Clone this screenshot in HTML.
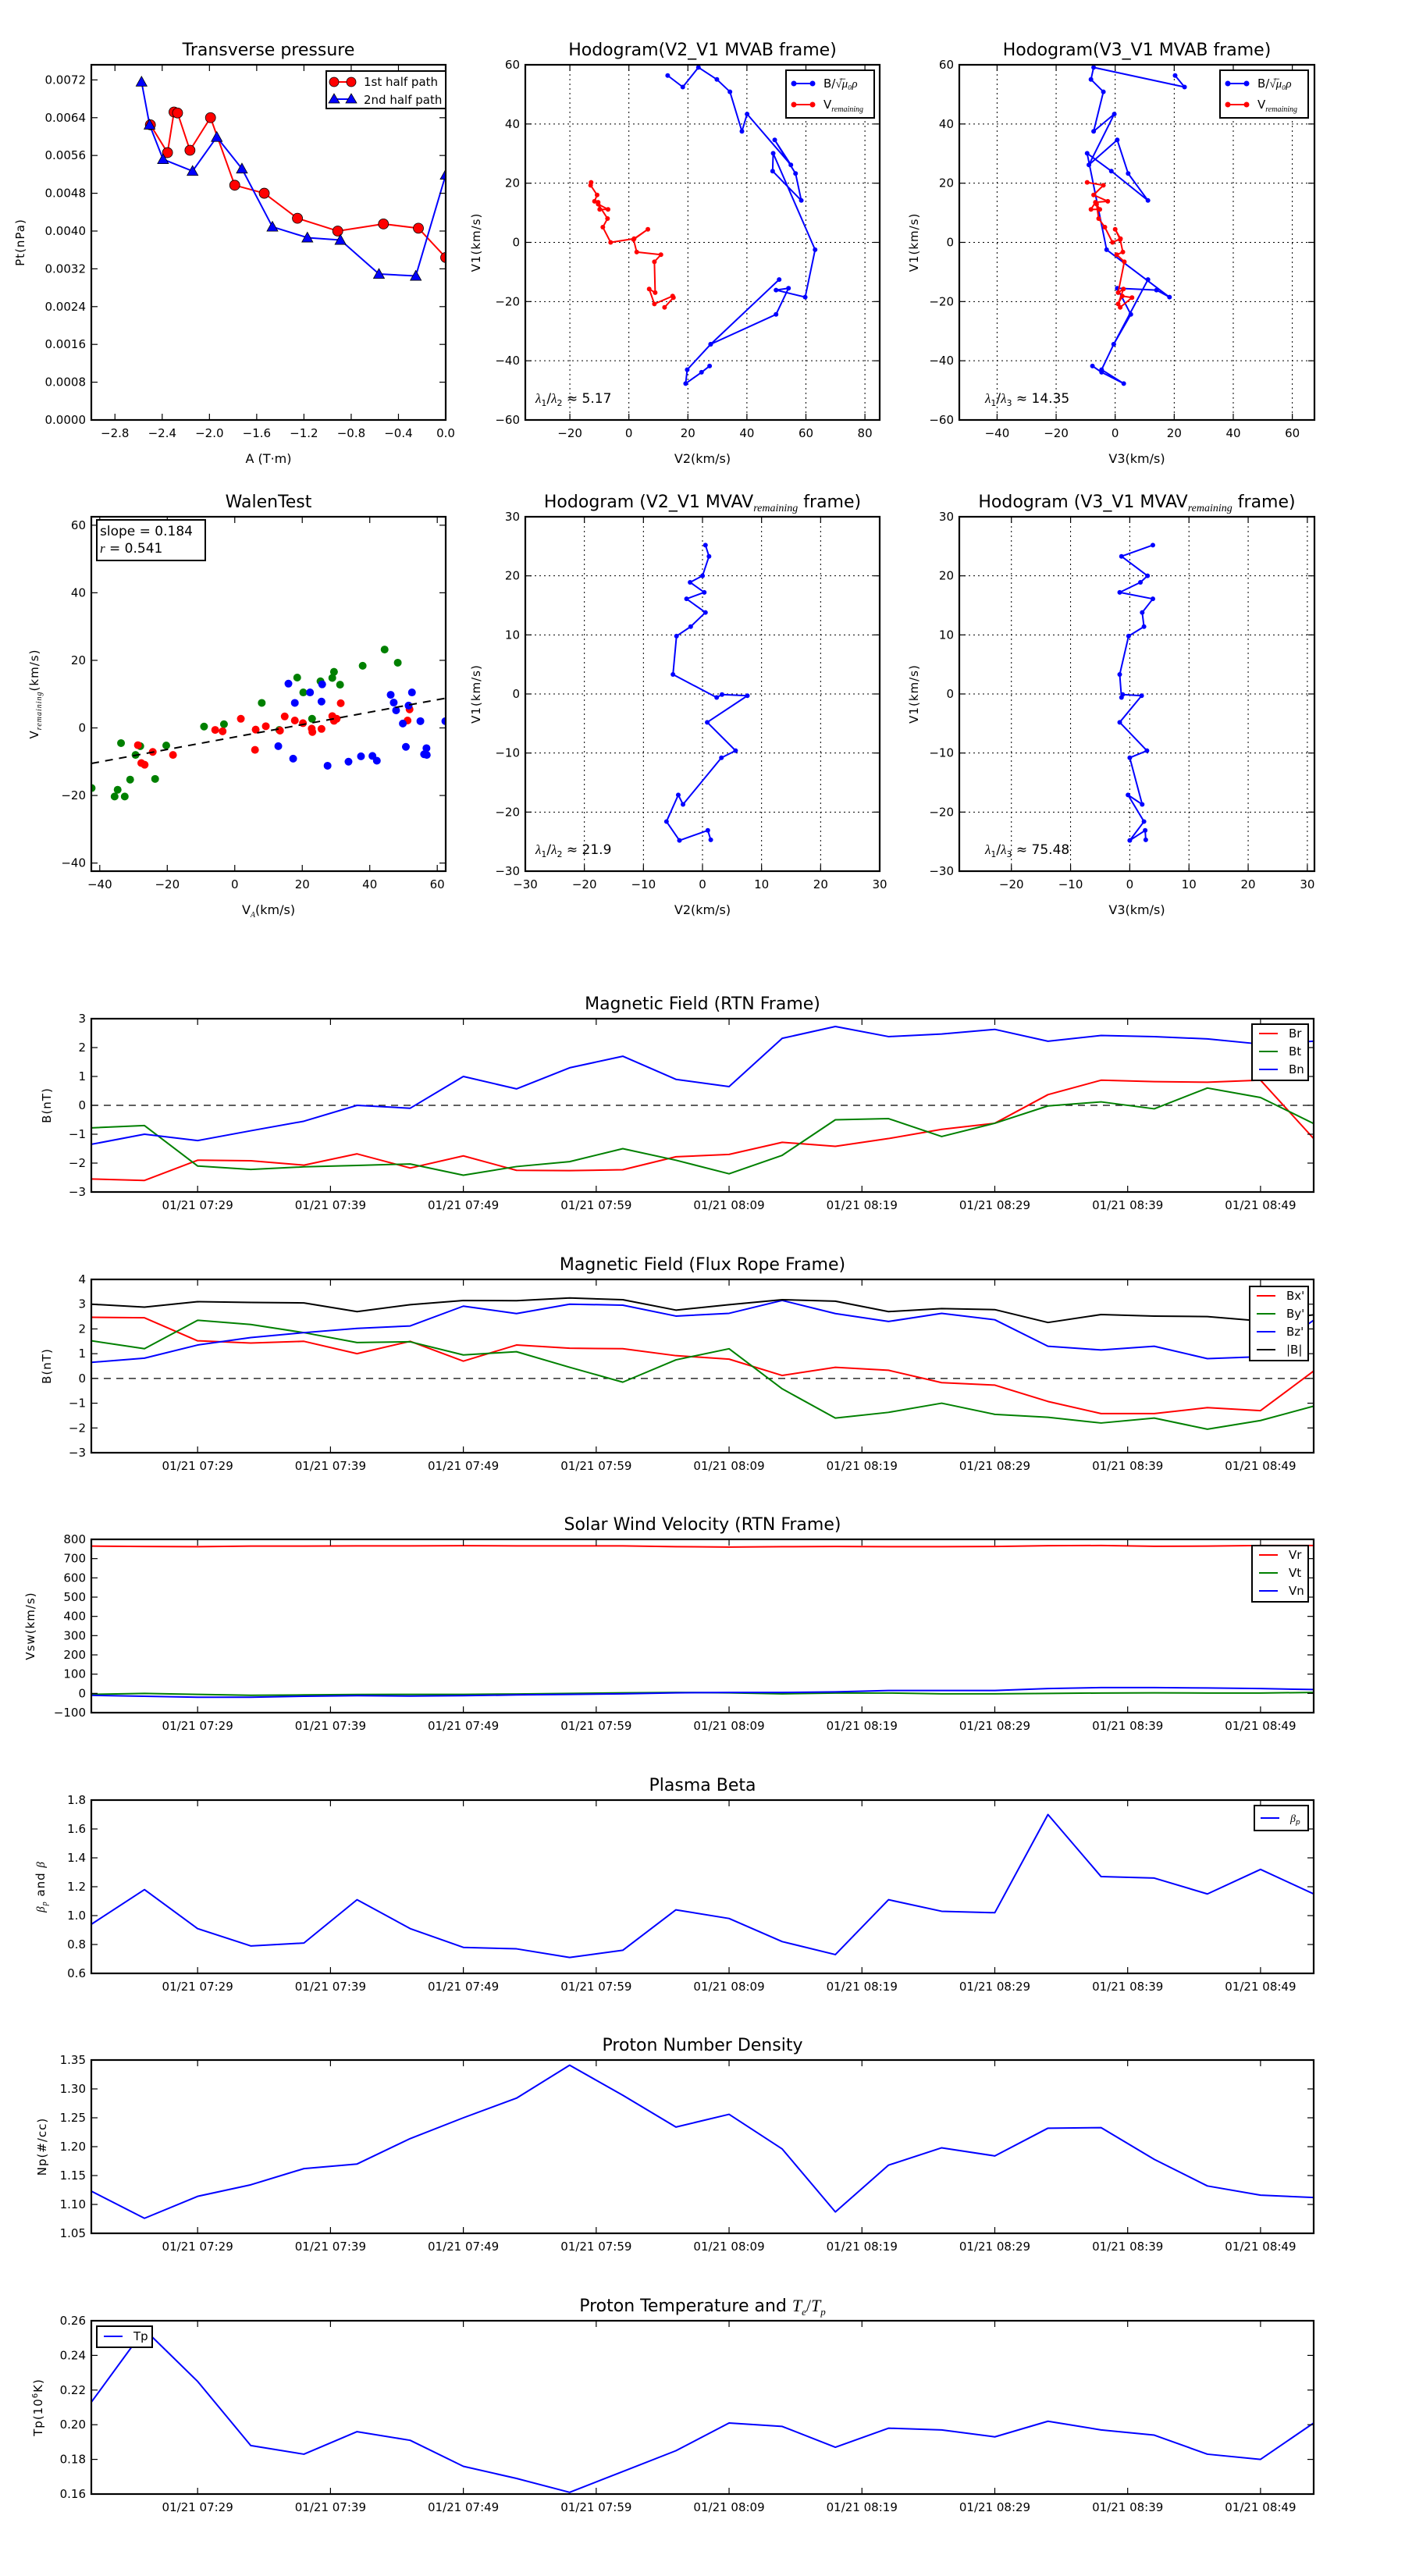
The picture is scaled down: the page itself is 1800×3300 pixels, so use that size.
<!DOCTYPE html>
<html><head><meta charset="utf-8"><title>Flux rope analysis</title>
<style>
html,body{margin:0;padding:0;background:#fff;}
svg{display:block;font-family:"DejaVu Sans","Liberation Sans",sans-serif;}
text{fill:#000;}
</style></head>
<body>
<svg id="fig" xmlns="http://www.w3.org/2000/svg" width="1800" height="3300" viewBox="0 0 1800 3300">
<rect x="0" y="0" width="1800" height="3300" fill="#fff"/>
</svg>
<script>
// ---------- Transverse pressure ----------
const TP_RED_A  = [-2.50,-2.355,-2.30,-2.27,-2.165,-1.991,-1.786,-1.536,-1.255,-0.914,-0.527,-0.231,0.0];
const TP_RED_PT = [0.00625,0.00566,0.00652,0.00650,0.00571,0.00640,0.00497,0.00480,0.00427,0.00400,0.00415,0.00406,0.00344];
const TP_BLUE_A  = [-2.575,-2.507,-2.393,-2.143,-1.938,-1.725,-1.467,-1.171,-0.891,-0.565,-0.253,0.0];
const TP_BLUE_PT = [0.00716,0.00625,0.00552,0.00527,0.00599,0.00532,0.00409,0.00386,0.00381,0.00309,0.00305,0.00519];
const TP_XTICKS = [-2.8,-2.4,-2.0,-1.6,-1.2,-0.8,-0.4,0.0];
const TP_XLABELS = ["\u22122.8","\u22122.4","\u22122.0","\u22121.6","\u22121.2","\u22120.8","\u22120.4","0.0"];
const TP_YTICKS = [0,0.0008,0.0016,0.0024,0.0032,0.0040,0.0048,0.0056,0.0064,0.0072];
const TP_YLABELS = ["0.0000","0.0008","0.0016","0.0024","0.0032","0.0040","0.0048","0.0056","0.0064","0.0072"];
// ---------- MVAB hodograms ----------
const HB_V1 = [56.37,52.48,59.12,55.04,50.88,37.52,43.36,26.19,34.60,23.27,14.16,24.07,30.09,-2.48,-18.50,-16.11,-15.49,-24.34,-34.42,-12.57,-34.42,-43.01,-47.70,-43.89,-41.77];
const HB_V2 = [13.15,18.27,23.57,29.83,34.25,38.31,40.07,54.90,49.43,56.49,58.43,48.72,48.90,63.11,59.75,49.87,54.10,49.87,27.71,50.93,27.71,19.77,19.24,24.62,27.36];
const HB_V3 = [20.3,23.5,-7.3,-8.2,-4.0,-7.3,-0.3,-8.9,0.7,4.4,11.1,-1.3,-9.5,-2.9,18.4,14.0,0.7,5.3,-0.5,11.1,-0.5,-4.6,2.9,-4.6,-7.7];
const HR_V1 = [20.27,19.29,16.02,13.89,13.54,11.15,11.15,12.92,8.05,5.13,0,1.24,4.42,0.97,-3.27,-4.16,-6.55,-16.99,-15.75,-20.80,-18.14,-18.67,-21.95];
const HR_V2 = [-12.80,-12.97,-10.77,-11.65,-10.41,-9.89,-7.06,-10.41,-7.24,-8.83,-6.18,1.77,6.44,1.59,2.65,10.86,8.65,8.91,6.88,8.65,14.83,15.09,12.09];
const HR_V3 = [-9.5,-4.0,-7.3,-2.5,-6.7,-8.2,-5.2,-6.3,-5.6,-3.5,-0.9,1.8,0,1.7,2.6,0.5,3.1,1.0,2.8,1.0,2.4,5.7,1.7];
const H60_TICKS = [-60,-40,-20,0,20,40,60];
const H60_LABELS = ["\u221260","\u221240","\u221220","0","20","40","60"];
const H2_XTICKS = [-20,0,20,40,60,80];
const H2_XLABELS = ["\u221220","0","20","40","60","80"];
const H3_XTICKS = [-40,-20,0,20,40,60];
const H3_XLABELS = ["\u221240","\u221220","0","20","40","60"];
// ---------- Walen test ----------
const WG_VA = [-42.4,-35.6,-34.7,-32.6,-31.0,-23.6,-33.7,-28.0,-29.4,-20.3,-9.1,-3.2,8.0,13.2,18.5,20.3,22.9,25.4,28.9,29.4,31.2,37.9,44.4,48.3];
const WG_VR = [-17.8,-20.3,-18.3,-20.3,-15.3,-15.1,-4.5,-5.4,-8.0,-5.2,0.4,1.1,7.4,-0.6,14.9,10.5,2.7,13.8,14.8,16.6,12.8,18.4,23.2,19.3];
const WR_VA = [-28.7,-27.7,-26.7,-24.3,-18.3,-5.8,-3.6,1.8,6.0,6.2,9.2,13.4,14.8,17.8,20.2,22.8,23.0,25.7,28.9,29.4,30.2,31.4,51.2,51.8];
const WR_VR = [-5.1,-10.4,-10.9,-7.1,-8.0,-0.6,-1.0,2.7,-6.5,-0.5,0.5,-0.8,3.4,2.2,1.4,-0.2,-1.2,-0.3,3.5,2.1,2.7,7.3,2.2,5.5];
const WB_VA = [15.9,17.8,22.3,25.7,25.9,12.9,17.3,27.5,33.7,37.4,40.8,42.1,46.2,47.1,47.8,49.8,50.7,51.5,52.5,55.0,56.1,56.8,56.9,62.4];
const WB_VR = [13.1,7.4,10.5,7.8,12.9,-5.4,-9.1,-11.2,-10.0,-8.4,-8.3,-9.7,9.8,7.5,5.2,1.3,-5.6,6.6,10.5,2.0,-7.8,-6.0,-8.0,2.0];
const W_SLOPE = 0.184;
const W_INTERCEPT = -2.7;
const W_TICKS = [-40,-20,0,20,40,60];
const W_LABELS = ["\u221240","\u221220","0","20","40","60"];
// ---------- MVAV hodograms ----------
const M_V1 = [25.2,23.3,20.0,18.9,17.2,16.1,13.8,11.4,9.8,3.3,-0.6,-0.1,-0.3,-4.8,-9.6,-10.8,-18.7,-17.1,-21.6,-24.8,-23.1,-24.7];
const M_V2 = [0.5,1.1,0,-2.1,0.3,-2.7,0.5,-2.0,-4.4,-5.0,2.4,3.3,7.6,0.8,5.6,3.2,-3.3,-4.1,-6.1,-3.9,0.9,1.4];
const M_V3 = [3.9,-1.4,3.0,1.8,-1.7,3.9,2.1,2.4,-0.2,-1.7,-1.4,-1.2,2.0,-1.7,2.9,0,2.1,-0.3,2.4,0,2.6,2.7];
const M30_TICKS = [-30,-20,-10,0,10,20,30];
const M30_LABELS = ["\u221230","\u221220","\u221210","0","10","20","30"];
const M3_XTICKS = [-20,-10,0,10,20,30];
const M3_XLABELS = ["\u221220","\u221210","0","10","20","30"];
// ---------- Time series (4-min cadence from 07:21) ----------
const T_STEP_MIN = 4;
const TIME_TICK_MIN = [8,18,28,38,48,58,68,78,88];
const TIME_TICK_LABELS = ["01/21 07:29","01/21 07:39","01/21 07:49","01/21 07:59","01/21 08:09","01/21 08:19","01/21 08:29","01/21 08:39","01/21 08:49"];
const BR = [-2.55,-2.6,-1.9,-1.92,-2.07,-1.68,-2.17,-1.75,-2.25,-2.26,-2.23,-1.78,-1.7,-1.28,-1.42,-1.15,-0.83,-0.62,0.37,0.87,0.82,0.8,0.87,-1.15];
const BT = [-0.78,-0.7,-2.1,-2.22,-2.13,-2.08,-2.03,-2.42,-2.12,-1.95,-1.5,-1.9,-2.37,-1.73,-0.5,-0.46,-1.08,-0.62,-0.02,0.12,-0.12,0.6,0.27,-0.63];
const BN = [-1.35,-1.0,-1.22,-0.88,-0.55,0.0,-0.1,1.0,0.57,1.3,1.7,0.9,0.65,2.32,2.73,2.38,2.47,2.63,2.22,2.42,2.38,2.3,2.12,2.22];
const BX = [2.47,2.45,1.52,1.43,1.5,1.0,1.5,0.7,1.35,1.22,1.2,0.92,0.78,0.12,0.45,0.33,-0.17,-0.27,-0.93,-1.42,-1.42,-1.18,-1.3,0.3];
const BY = [1.52,1.2,2.35,2.18,1.85,1.45,1.48,0.95,1.08,0.45,-0.15,0.75,1.2,-0.42,-1.6,-1.37,-1.0,-1.45,-1.57,-1.8,-1.6,-2.05,-1.7,-1.12];
const BZ = [0.65,0.82,1.35,1.65,1.85,2.02,2.12,2.92,2.62,3.0,2.96,2.52,2.63,3.15,2.62,2.3,2.63,2.37,1.3,1.15,1.3,0.8,0.88,2.35];
const BMAG = [3.0,2.88,3.1,3.07,3.05,2.7,2.98,3.15,3.14,3.25,3.18,2.76,2.98,3.18,3.12,2.7,2.82,2.78,2.26,2.58,2.52,2.5,2.32,2.57];
const VR = [765,763,762,765,765,766,766,767,766,766,766,762,760,762,763,762,762,763,767,768,764,765,768,768];
const VT = [-5,0,-5,-10,-8,-6,-5,-5,-3,0,3,5,3,-2,2,2,-2,-2,0,2,3,2,2,5];
const VN = [-10,-15,-20,-20,-15,-12,-14,-12,-8,-5,-2,3,5,5,8,15,15,15,25,30,30,28,25,20];
const BETA = [0.94,1.18,0.91,0.79,0.81,1.11,0.91,0.78,0.77,0.71,0.76,1.04,0.98,0.82,0.73,1.11,1.03,1.02,1.70,1.27,1.26,1.15,1.32,1.15];
const NP = [1.123,1.076,1.114,1.134,1.162,1.170,1.214,1.250,1.284,1.341,1.289,1.234,1.256,1.196,1.087,1.168,1.198,1.184,1.232,1.233,1.178,1.132,1.116,1.112];
const TPK = [0.213,0.255,0.225,0.188,0.183,0.196,0.191,0.176,0.169,0.161,0.173,0.185,0.201,0.199,0.187,0.198,0.197,0.193,0.202,0.197,0.194,0.183,0.180,0.201];
const RTN_YT = [-3,-2,-1,0,1,2,3];
const RTN_YL = ["\u22123","\u22122","\u22121","0","1","2","3"];
const FR_YT = [-3,-2,-1,0,1,2,3,4];
const FR_YL = ["\u22123","\u22122","\u22121","0","1","2","3","4"];
const V_YT = [-100,0,100,200,300,400,500,600,700,800];
const V_YL = ["\u2212100","0","100","200","300","400","500","600","700","800"];
const BETA_YT = [0.6,0.8,1.0,1.2,1.4,1.6,1.8];
const BETA_YL = ["0.6","0.8","1.0","1.2","1.4","1.6","1.8"];
const NP_YT = [1.05,1.10,1.15,1.20,1.25,1.30,1.35];
const NP_YL = ["1.05","1.10","1.15","1.20","1.25","1.30","1.35"];
const TP_YT2 = [0.16,0.18,0.20,0.22,0.24,0.26];
const TP_YL2 = ["0.16","0.18","0.20","0.22","0.24","0.26"];

const NS = 'http://www.w3.org/2000/svg';
const svg = document.getElementById('fig');
let clipCount = 0;
function mk(tag, attrs, parent, name, inter) {
  const e = document.createElementNS(NS, tag);
  for (const k in attrs) e.setAttribute(k, attrs[k]);
  
  
  (parent || svg).appendChild(e);
  return e;
}
function txt(s, attrs, parent, name) { const e = mk('text', attrs, parent, name); e.textContent = s; return e; }
function lin(d0, d1, r0, r1) { return v => r0 + (v - d0) / (d1 - d0) * (r1 - r0); }

function panel(o) {
  const g = mk('g', {}, svg, o.name);
  const sx = lin(o.xd[0], o.xd[1], o.x, o.x + o.w);
  const sy = lin(o.yd[0], o.yd[1], o.y + o.h, o.y);
  const cid = 'clip' + (++clipCount);
  const defs = mk('defs', {}, g, 'defs');
  const cp = mk('clipPath', {id: cid}, defs, 'clip-path');
  mk('rect', {x: o.x, y: o.y, width: o.w, height: o.h}, cp, 'clip-rect');
  if (o.grid) {
    const gg = mk('g', {stroke: '#000', 'stroke-width': 1, 'stroke-dasharray': '2,4'}, g, 'grid');
    o.xt.forEach(v => { const X = sx(v); mk('line', {x1: X, x2: X, y1: o.y, y2: o.y + o.h}, gg, 'grid-line-x'); });
    o.yt.forEach(v => { const Y = sy(v); mk('line', {x1: o.x, x2: o.x + o.w, y1: Y, y2: Y}, gg, 'grid-line-y'); });
  }
  const plot = mk('g', {'clip-path': 'url(#' + cid + ')'}, g, 'plot-area');
  const tg = mk('g', {stroke: '#000', 'stroke-width': 1.2}, g, 'ticks');
  const lg = mk('g', {'font-size': 15}, g, 'tick-labels');
  o.xt.forEach((v, i) => {
    const X = sx(v);
    mk('line', {x1: X, x2: X, y1: o.y + o.h, y2: o.y + o.h - 8}, tg, 'x-tick');
    mk('line', {x1: X, x2: X, y1: o.y, y2: o.y + 8}, tg, 'x-tick');
    txt(o.xl[i], {x: X, y: o.y + o.h + 22, 'text-anchor': 'middle'}, lg, 'x-tick-label');
  });
  o.yt.forEach((v, i) => {
    const Y = sy(v);
    mk('line', {x1: o.x, x2: o.x + 8, y1: Y, y2: Y}, tg, 'y-tick');
    mk('line', {x1: o.x + o.w, x2: o.x + o.w - 8, y1: Y, y2: Y}, tg, 'y-tick');
    txt(o.yl[i], {x: o.x - 7, y: Y + 5, 'text-anchor': 'end'}, lg, 'y-tick-label');
  });
  mk('rect', {x: o.x, y: o.y, width: o.w, height: o.h, fill: 'none', stroke: '#000', 'stroke-width': 2.2}, g, 'axes-frame');
  if (o.title) {
    const t = mk('text', {x: o.x + o.w / 2, y: o.y - 12, 'text-anchor': 'middle', 'font-size': 22}, g, 'chart-title');
    t.innerHTML = o.title;
  }
  if (o.xlabel) {
    const t = mk('text', {x: o.x + o.w / 2, y: o.y + o.h + 55, 'text-anchor': 'middle', 'font-size': 16}, g, 'x-axis-title');
    t.innerHTML = o.xlabel;
  }
  if (o.ylabel) {
    const cx = o.x - o.yoff, cy = o.y + o.h / 2;
    const t = mk('text', {x: cx, y: cy, 'text-anchor': 'middle', 'font-size': 15, transform: 'rotate(-90 ' + cx + ' ' + cy + ')', 'letter-spacing': 1}, g, 'y-axis-title');
    t.innerHTML = o.ylabel;
  }
  return {sx, sy, g, plot};
}
function polyline(p, xs, ys, color, name, w) {
  const pts = xs.map((v, i) => p.sx(v).toFixed(2) + ',' + p.sy(ys[i]).toFixed(2)).join(' ');
  return mk('polyline', {points: pts, fill: 'none', stroke: color, 'stroke-width': w || 2, 'stroke-linejoin': 'round'}, p.plot, name);
}
function dots(p, xs, ys, color, r, name, edge) {
  const g = mk('g', {fill: color}, p.plot, name);
  xs.forEach((v, i) => {
    const a = {cx: p.sx(v), cy: p.sy(ys[i]), r: r};
    if (edge) { a.stroke = '#000'; a['stroke-width'] = 0.8; }
    mk('circle', a, g, name + '-point');
  });
}
function tris(p, xs, ys, color, s, name) {
  const g = mk('g', {fill: color, stroke: '#000', 'stroke-width': 0.8}, p.plot, name);
  xs.forEach((v, i) => {
    const X = p.sx(v), Y = p.sy(ys[i]);
    mk('polygon', {points: X + ',' + (Y - s) + ' ' + (X - s) + ',' + (Y + s * 0.8) + ' ' + (X + s) + ',' + (Y + s * 0.8)}, g, name + '-point');
  });
}
function legendBox(x, y, w, h, name) {
  const g = mk('g', {}, svg, name);
  mk('rect', {x: x, y: y, width: w, height: h, fill: '#fff', stroke: '#000', 'stroke-width': 2}, g, 'legend-frame');
  return g;
}
function legendEntry(g, x, y, color, label, name, marker) {
  const e = mk('g', {}, g, name);
  mk('line', {x1: x, x2: x + 24, y1: y, y2: y, stroke: color, 'stroke-width': 2}, e, 'legend-line');
  if (marker === 'dot') {
    mk('circle', {cx: x, cy: y, r: 3.5, fill: color}, e, 'legend-marker');
    mk('circle', {cx: x + 24, cy: y, r: 3.5, fill: color}, e, 'legend-marker');
  }
  const t = mk('text', {x: x + 38, y: y + 5, 'font-size': 15}, e, 'legend-label');
  t.innerHTML = label;
}

// ===== Row 1 =====
const p1 = panel({name: 'transverse-pressure-chart', x: 117, y: 83, w: 454, h: 455, xd: [-3, 0], yd: [0, 0.00752],
  xt: TP_XTICKS, xl: TP_XLABELS, yt: TP_YTICKS, yl: TP_YLABELS, title: 'Transverse pressure', xlabel: 'A (T\u00b7m)', ylabel: 'Pt(nPa)', yoff: 86});
polyline(p1, TP_RED_A, TP_RED_PT, '#ff0000', 'first-half-path-line');
polyline(p1, TP_BLUE_A, TP_BLUE_PT, '#0000ff', 'second-half-path-line');
dots(p1, TP_RED_A, TP_RED_PT, '#ff0000', 6.5, 'first-half-path', true);
tris(p1, TP_BLUE_A, TP_BLUE_PT, '#0000ff', 7, 'second-half-path');
(function () {
  const g = legendBox(418, 91, 153, 48, 'transverse-pressure-legend');
  const e1 = mk('g', {}, g, 'legend-entry-first-half');
  mk('line', {x1: 428, x2: 450, y1: 105, y2: 105, stroke: '#ff0000', 'stroke-width': 2}, e1, 'legend-line');
  mk('circle', {cx: 428, cy: 105, r: 6, fill: '#ff0000', stroke: '#000', 'stroke-width': 0.8}, e1, 'legend-marker');
  mk('circle', {cx: 450, cy: 105, r: 6, fill: '#ff0000', stroke: '#000', 'stroke-width': 0.8}, e1, 'legend-marker');
  txt('1st half path', {x: 466, y: 110, 'font-size': 15}, e1, 'legend-label');
  const e2 = mk('g', {}, g, 'legend-entry-second-half');
  mk('line', {x1: 428, x2: 450, y1: 127, y2: 127, stroke: '#0000ff', 'stroke-width': 2}, e2, 'legend-line');
  mk('polygon', {points: '428,120 421,132 435,132', fill: '#0000ff', stroke: '#000', 'stroke-width': 0.8}, e2, 'legend-marker');
  mk('polygon', {points: '450,120 443,132 457,132', fill: '#0000ff', stroke: '#000', 'stroke-width': 0.8}, e2, 'legend-marker');
  txt('2nd half path', {x: 466, y: 133, 'font-size': 15}, e2, 'legend-label');
})();

const BMU = 'B/<tspan font-style="italic" font-family="Liberation Serif, serif">\u221A\u0305\u03BC\u2080\u03C1</tspan>';
const VREM = 'V<tspan font-size="10" dy="4" font-style="italic" font-family="Liberation Serif, serif">remaining</tspan>';

const p2 = panel({name: 'hodogram-v2-v1-mvab', x: 673, y: 83, w: 454, h: 455, xd: [-35.1, 85], yd: [-60, 60], grid: true,
  xt: H2_XTICKS, xl: H2_XLABELS, yt: H60_TICKS, yl: H60_LABELS, title: 'Hodogram(V2_V1 MVAB frame)', xlabel: 'V2(km/s)', ylabel: 'V1(km/s)', yoff: 58});
polyline(p2, HB_V2, HB_V1, '#0000ff', 'b-alfven-path');
dots(p2, HB_V2, HB_V1, '#0000ff', 3, 'b-alfven');
polyline(p2, HR_V2, HR_V1, '#ff0000', 'v-remaining-path');
dots(p2, HR_V2, HR_V1, '#ff0000', 3, 'v-remaining');
(function () {
  const t = mk('text', {x: 686, y: 516, 'font-size': 17}, svg, 'eigenvalue-ratio-label');
  t.innerHTML = '<tspan font-style="italic" font-family="Liberation Serif, serif">\u03BB</tspan><tspan font-size="11" dy="4">1</tspan><tspan dy="-4">/</tspan><tspan font-style="italic" font-family="Liberation Serif, serif">\u03BB</tspan><tspan font-size="11" dy="4">2</tspan><tspan dy="-4"> \u2248 5.17</tspan>';
  const g = legendBox(1007, 90, 113, 61, 'hodogram-v2-legend');
  legendEntry(g, 1017, 107, '#0000ff', BMU, 'legend-entry-b', 'dot');
  legendEntry(g, 1017, 134, '#ff0000', VREM, 'legend-entry-v', 'dot');
})();

const p3 = panel({name: 'hodogram-v3-v1-mvab', x: 1229, y: 83, w: 455, h: 455, xd: [-52.8, 67.5], yd: [-60, 60], grid: true,
  xt: H3_XTICKS, xl: H3_XLABELS, yt: H60_TICKS, yl: H60_LABELS, title: 'Hodogram(V3_V1 MVAB frame)', xlabel: 'V3(km/s)', ylabel: 'V1(km/s)', yoff: 53});
polyline(p3, HB_V3, HB_V1, '#0000ff', 'b-alfven-path');
dots(p3, HB_V3, HB_V1, '#0000ff', 3, 'b-alfven');
polyline(p3, HR_V3, HR_V1, '#ff0000', 'v-remaining-path');
dots(p3, HR_V3, HR_V1, '#ff0000', 3, 'v-remaining');
(function () {
  const t = mk('text', {x: 1262, y: 516, 'font-size': 17}, svg, 'eigenvalue-ratio-label');
  t.innerHTML = '<tspan font-style="italic" font-family="Liberation Serif, serif">\u03BB</tspan><tspan font-size="11" dy="4">1</tspan><tspan dy="-4">/</tspan><tspan font-style="italic" font-family="Liberation Serif, serif">\u03BB</tspan><tspan font-size="11" dy="4">3</tspan><tspan dy="-4"> \u2248 14.35</tspan>';
  const g = legendBox(1563, 90, 113, 61, 'hodogram-v3-legend');
  legendEntry(g, 1573, 107, '#0000ff', BMU, 'legend-entry-b', 'dot');
  legendEntry(g, 1573, 134, '#ff0000', VREM, 'legend-entry-v', 'dot');
})();

// ===== Row 2 =====
const pw = panel({name: 'walen-test-chart', x: 117, y: 662, w: 454, h: 454, xd: [-42.5, 62.5], yd: [-42.4, 62.5],
  xt: W_TICKS, xl: W_LABELS, yt: W_TICKS, yl: W_LABELS, title: 'WalenTest',
  xlabel: 'V<tspan font-size="10" dy="4" font-style="italic" font-family="Liberation Serif, serif">A</tspan><tspan dy="-4">(km/s)</tspan>',
  ylabel: 'V<tspan font-size="10" dy="4" font-style="italic" font-family="Liberation Serif, serif">remaining</tspan><tspan dy="-4">(km/s)</tspan>', yoff: 68});
dots(pw, WG_VA, WG_VR, '#008000', 5, 'walen-green');
dots(pw, WR_VA, WR_VR, '#ff0000', 5, 'walen-red');
dots(pw, WB_VA, WB_VR, '#0000ff', 5, 'walen-blue');
(function () {
  const xs = [-42.5, 62.5];
  mk('line', {x1: pw.sx(xs[0]), y1: pw.sy(W_SLOPE * xs[0] + W_INTERCEPT), x2: pw.sx(xs[1]), y2: pw.sy(W_SLOPE * xs[1] + W_INTERCEPT),
    stroke: '#000', 'stroke-width': 2, 'stroke-dasharray': '10,8'}, pw.plot, 'fit-line');
  const g = mk('g', {}, svg, 'walen-stats-box');
  mk('rect', {x: 124, y: 666, width: 139, height: 52, fill: '#fff', stroke: '#000', 'stroke-width': 2}, g, 'stats-frame');
  txt('slope = 0.184', {x: 128, y: 686, 'font-size': 17}, g, 'slope-label');
  const t = mk('text', {x: 128, y: 708, 'font-size': 17}, g, 'r-label');
  t.innerHTML = '<tspan font-style="italic" font-family="Liberation Serif, serif">r</tspan> = 0.541';
})();

const p5 = panel({name: 'hodogram-v2-v1-mvav', x: 673, y: 662, w: 454, h: 454, xd: [-30, 30], yd: [-30, 30], grid: true,
  xt: M30_TICKS, xl: M30_LABELS, yt: M30_TICKS, yl: M30_LABELS,
  title: 'Hodogram (V2_V1 MVAV<tspan font-size="14" dy="5" font-style="italic" font-family="Liberation Serif, serif">remaining</tspan><tspan dy="-5"> frame)</tspan>',
  xlabel: 'V2(km/s)', ylabel: 'V1(km/s)', yoff: 58});
polyline(p5, M_V2, M_V1, '#0000ff', 'mvav-path');
dots(p5, M_V2, M_V1, '#0000ff', 3, 'mvav');
(function () {
  const t = mk('text', {x: 686, y: 1094, 'font-size': 17}, svg, 'eigenvalue-ratio-label');
  t.innerHTML = '<tspan font-style="italic" font-family="Liberation Serif, serif">\u03BB</tspan><tspan font-size="11" dy="4">1</tspan><tspan dy="-4">/</tspan><tspan font-style="italic" font-family="Liberation Serif, serif">\u03BB</tspan><tspan font-size="11" dy="4">2</tspan><tspan dy="-4"> \u2248 21.9</tspan>';
})();

const p6 = panel({name: 'hodogram-v3-v1-mvav', x: 1229, y: 662, w: 455, h: 454, xd: [-28.8, 31.2], yd: [-30, 30], grid: true,
  xt: M3_XTICKS, xl: M3_XLABELS, yt: M30_TICKS, yl: M30_LABELS,
  title: 'Hodogram (V3_V1 MVAV<tspan font-size="14" dy="5" font-style="italic" font-family="Liberation Serif, serif">remaining</tspan><tspan dy="-5"> frame)</tspan>',
  xlabel: 'V3(km/s)', ylabel: 'V1(km/s)', yoff: 53});
polyline(p6, M_V3, M_V1, '#0000ff', 'mvav-path');
dots(p6, M_V3, M_V1, '#0000ff', 3, 'mvav');
(function () {
  const t = mk('text', {x: 1262, y: 1094, 'font-size': 17}, svg, 'eigenvalue-ratio-label');
  t.innerHTML = '<tspan font-style="italic" font-family="Liberation Serif, serif">\u03BB</tspan><tspan font-size="11" dy="4">1</tspan><tspan dy="-4">/</tspan><tspan font-style="italic" font-family="Liberation Serif, serif">\u03BB</tspan><tspan font-size="11" dy="4">3</tspan><tspan dy="-4"> \u2248 75.48</tspan>';
})();

// ===== Time series =====
function tpanel(name, top, yd, yt, yl, title, ylabel, yoff) {
  return panel({name: name, x: 117, y: top, w: 1566, h: 222, xd: [0, 92], yd: yd,
    xt: TIME_TICK_MIN, xl: TIME_TICK_LABELS, yt: yt, yl: yl, title: title, ylabel: ylabel, yoff: yoff});
}
function tline(p, arr, color, name) {
  const xs = arr.map((v, i) => i * T_STEP_MIN);
  polyline(p, xs, arr, color, name);
}
function zeroLine(p) {
  mk('line', {x1: p.sx(0), x2: p.sx(92), y1: p.sy(0), y2: p.sy(0), stroke: '#000', 'stroke-width': 1.3, 'stroke-dasharray': '9,7'}, p.plot, 'zero-line');
}

const t1 = tpanel('magnetic-field-rtn-chart', 1305, [-3, 3], RTN_YT, RTN_YL, 'Magnetic Field (RTN Frame)', 'B(nT)', 52);
zeroLine(t1);
tline(t1, BR, '#ff0000', 'br-line');
tline(t1, BT, '#008000', 'bt-line');
tline(t1, BN, '#0000ff', 'bn-line');
(function () {
  const g = legendBox(1604, 1312, 72, 72, 'rtn-legend');
  legendEntry(g, 1613, 1324, '#ff0000', 'Br', 'legend-entry-br');
  legendEntry(g, 1613, 1347, '#008000', 'Bt', 'legend-entry-bt');
  legendEntry(g, 1613, 1370, '#0000ff', 'Bn', 'legend-entry-bn');
})();

const t2 = tpanel('magnetic-field-flux-rope-chart', 1639, [-3, 4], FR_YT, FR_YL, 'Magnetic Field (Flux Rope Frame)', 'B(nT)', 52);
zeroLine(t2);
tline(t2, BX, '#ff0000', 'bx-line');
tline(t2, BY, '#008000', 'by-line');
tline(t2, BZ, '#0000ff', 'bz-line');
tline(t2, BMAG, '#000000', 'bmag-line');
(function () {
  const g = legendBox(1601, 1648, 75, 95, 'flux-rope-legend');
  legendEntry(g, 1610, 1660, '#ff0000', "Bx'", 'legend-entry-bx');
  legendEntry(g, 1610, 1683, '#008000', "By'", 'legend-entry-by');
  legendEntry(g, 1610, 1706, '#0000ff', "Bz'", 'legend-entry-bz');
  legendEntry(g, 1610, 1729, '#000000', '|B|', 'legend-entry-bmag');
})();

const t3 = tpanel('solar-wind-velocity-chart', 1972, [-100, 800], V_YT, V_YL, 'Solar Wind Velocity (RTN Frame)', 'Vsw(km/s)', 73);
tline(t3, VR, '#ff0000', 'vr-line');
tline(t3, VT, '#008000', 'vt-line');
tline(t3, VN, '#0000ff', 'vn-line');
(function () {
  const g = legendBox(1604, 1980, 72, 72, 'velocity-legend');
  legendEntry(g, 1613, 1992, '#ff0000', 'Vr', 'legend-entry-vr');
  legendEntry(g, 1613, 2015, '#008000', 'Vt', 'legend-entry-vt');
  legendEntry(g, 1613, 2038, '#0000ff', 'Vn', 'legend-entry-vn');
})();

const BETA_LABEL = '<tspan font-style="italic" font-family="Liberation Serif, serif">\u03B2</tspan><tspan font-size="10" dy="3" font-style="italic" font-family="Liberation Serif, serif">p</tspan><tspan dy="-3"> and </tspan><tspan font-style="italic" font-family="Liberation Serif, serif">\u03B2</tspan>';
const t4 = tpanel('plasma-beta-chart', 2306, [0.6, 1.8], BETA_YT, BETA_YL, 'Plasma Beta', BETA_LABEL, 60);
tline(t4, BETA, '#0000ff', 'beta-line');
(function () {
  const g = legendBox(1607, 2313, 69, 32, 'beta-legend');
  legendEntry(g, 1615, 2329, '#0000ff', '<tspan font-style="italic" font-family="Liberation Serif, serif" font-size="14">\u03B2</tspan><tspan font-size="9" dy="3" font-style="italic">p</tspan>', 'legend-entry-beta');
})();

const t5 = tpanel('proton-density-chart', 2639, [1.05, 1.35], NP_YT, NP_YL, 'Proton Number Density', 'Np(#/cc)', 58);
tline(t5, NP, '#0000ff', 'np-line');

const t6 = tpanel('proton-temperature-chart', 2973, [0.16, 0.26], TP_YT2, TP_YL2,
  'Proton Temperature and <tspan font-style="italic" font-family="Liberation Serif, serif">T</tspan><tspan font-size="13" dy="5" font-style="italic" font-family="Liberation Serif, serif">e</tspan><tspan dy="-5" font-family="Liberation Serif, serif">/</tspan><tspan font-style="italic" font-family="Liberation Serif, serif">T</tspan><tspan font-size="13" dy="5" font-style="italic" font-family="Liberation Serif, serif">p</tspan>',
  'Tp(10<tspan font-size="10" dy="-6">6</tspan><tspan dy="6">K)</tspan>', 63);
tline(t6, TPK, '#0000ff', 'tp-line');
(function () {
  const g = legendBox(124, 2980, 71, 27, 'temperature-legend');
  legendEntry(g, 133, 2993, '#0000ff', 'Tp', 'legend-entry-tp');
})();
</script>
</body></html>
